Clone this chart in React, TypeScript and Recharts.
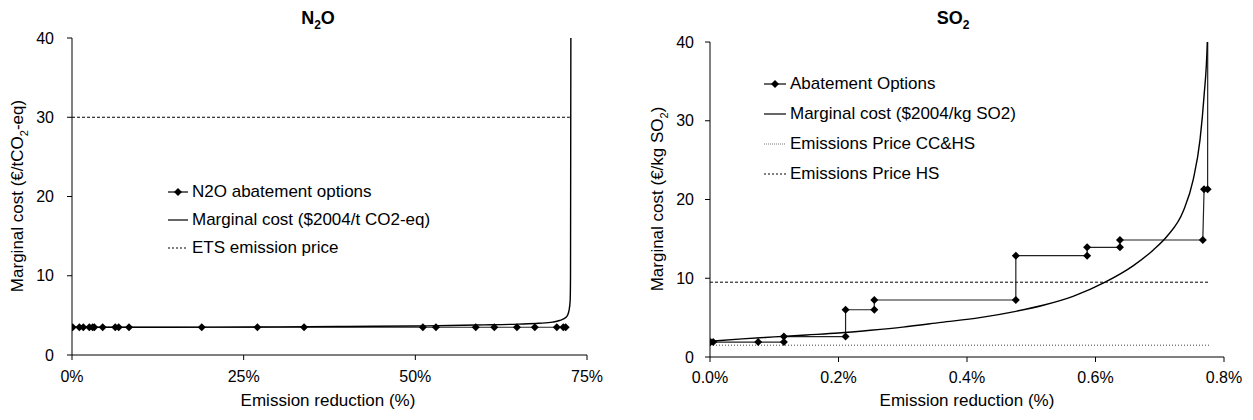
import React from 'react';
import { LineChart, Line, XAxis, YAxis } from 'recharts';

// N2O panel
const n2oOptionX = [0.1, 1.07, 1.65, 2.52, 3.0, 3.25, 4.47, 6.3, 6.8, 8.3, 18.9, 27.0, 33.8, 51.1, 53.0, 58.8, 61.5, 64.8, 67.4, 70.6, 71.55, 71.9];
const n2oOptionY = [3.5, 3.5, 3.5, 3.5, 3.5, 3.5, 3.5, 3.5, 3.5, 3.5, 3.5, 3.5, 3.5, 3.5, 3.5, 3.5, 3.5, 3.5, 3.5, 3.5, 3.5, 3.5];
const n2oCurveX = [0, 10, 20, 30, 40, 50, 55, 60, 65, 68, 70, 71, 72, 72.4, 72.55, 72.6, 72.65, 72.7];
const n2oCurveY = [3.5, 3.5, 3.52, 3.55, 3.6, 3.66, 3.72, 3.8, 3.9, 4.0, 4.15, 4.35, 4.8, 5.7, 6.9, 10, 40, 45];
const etsX = [0, 72.5];
const etsY = [30, 30];
const n2oXTicks = [0, 25, 50, 75];

// SO2 panel
const so2OptionX = [0.001, 0.005, 0.075, 0.115, 0.115, 0.211, 0.211, 0.2557, 0.2557, 0.476, 0.476, 0.587, 0.587, 0.638, 0.638, 0.767, 0.769, 0.7745, 0.7747];
const so2OptionY = [1.9, 1.9, 1.9, 1.9, 2.6, 2.6, 6.0, 6.0, 7.24, 7.24, 12.87, 12.87, 13.93, 13.93, 14.86, 14.86, 21.3, 21.3, 45];
const so2CurveX = [0, 0.05, 0.1, 0.15, 0.2, 0.25, 0.3, 0.36, 0.42, 0.476, 0.52, 0.565, 0.615, 0.659, 0.69, 0.711, 0.737, 0.752, 0.7627, 0.7689, 0.774, 0.7755];
const so2CurveY = [2.0, 2.3, 2.55, 2.8, 3.05, 3.4, 3.8, 4.4, 5.0, 5.8, 6.6, 7.7, 9.5, 11.6, 13.6, 15.3, 18.6, 22.5, 27.6, 33.1, 40, 45];
const ccHsX = [0, 0.777];
const ccHsY = [1.5, 1.5];
const hsX = [0, 0.777];
const hsY = [9.5, 9.5];
const so2XTicks = [0, 0.2, 0.4, 0.6, 0.8];

const yTicks = [0, 10, 20, 30, 40];

const FONT = '"Liberation Sans", Arial, sans-serif';

const toPoints = (xs: number[], ys: number[]) => xs.map((x, i) => ({ x, y: ys[i] }));

const Diamond = (props: any) => {
  const { cx, cy, index } = props;
  if (cx == null || cy == null) return <g key={index} />;
  const r = 4;
  return (
    <path
      key={index}
      d={`M${cx},${cy - r}L${cx + r},${cy}L${cx},${cy + r}L${cx - r},${cy}Z`}
      fill="#000"
    />
  );
};

const tickStyle = { fontSize: 16, fill: '#000', fontFamily: FONT };

type LegendItem = { label: React.ReactNode; dash?: string; marker?: boolean; color?: string; width?: number };

function LegendBlock({ items, left, top, rowGap, sampleW }: { items: LegendItem[]; left: number; top: number; rowGap: number; sampleW: number }) {
  return (
    <div style={{ position: 'absolute', left, top, fontFamily: FONT, fontSize: 17, color: '#000' }}>
      {items.map((it, i) => (
        <div key={i} style={{ position: 'absolute', top: i * rowGap, left: 0, display: 'flex', alignItems: 'center', whiteSpace: 'nowrap', height: 20, marginTop: -10 }}>
          <svg width={sampleW} height={12} style={{ marginRight: 4 }}>
            <line x1={0} y1={6} x2={sampleW} y2={6} stroke={it.color || '#000'} strokeWidth={it.width || 1.2} strokeDasharray={it.dash} />
            {it.marker && <path d={`M${sampleW / 2},2L${sampleW / 2 + 4},6L${sampleW / 2},10L${sampleW / 2 - 4},6Z`} fill="#000" />}
          </svg>
          <span>{it.label}</span>
        </div>
      ))}
    </div>
  );
}

export default function App() {
  return (
    <div style={{ position: 'absolute', left: 0, top: 0, width: 1253, height: 420, background: '#fff', fontFamily: FONT }}>
      {/* N2O chart */}
      <div style={{ position: 'absolute', left: 0, top: 0 }}>
        <LineChart width={620} height={420} margin={{ top: 38, right: 33, left: 22, bottom: 35 }}>
          <XAxis
            type="number"
            dataKey="x"
            domain={[0, 75]}
            ticks={n2oXTicks}
            tickFormatter={(v) => `${v}%`}
            stroke="#000"
            tickSize={5}
            tickMargin={11}
            tick={tickStyle}
            height={30}
            allowDataOverflow
          />
          <YAxis
            type="number"
            domain={[0, 40]}
            ticks={yTicks}
            stroke="#000"
            tickSize={5}
            tickMargin={13}
            tick={tickStyle}
            width={50}
            allowDataOverflow
          />
          <Line data={toPoints(etsX, etsY)} dataKey="y" stroke="#000" strokeWidth={1} strokeDasharray="3 2" dot={false} isAnimationActive={false} />
          <Line data={toPoints(n2oOptionX, n2oOptionY)} dataKey="y" stroke="#222" strokeWidth={1.2} dot={Diamond} isAnimationActive={false} />
          <Line data={toPoints(n2oCurveX, n2oCurveY)} dataKey="y" type="monotone" stroke="#000" strokeWidth={1.4} dot={false} isAnimationActive={false} />
        </LineChart>
      </div>

      {/* SO2 chart */}
      <div style={{ position: 'absolute', left: 620, top: 0 }}>
        <LineChart width={633} height={420} margin={{ top: 42, right: 29, left: 40, bottom: 33 }}>
          <XAxis
            type="number"
            dataKey="x"
            domain={[0, 0.8]}
            ticks={so2XTicks}
            tickFormatter={(v) => `${Number(v).toFixed(1)}%`}
            stroke="#000"
            tickSize={5}
            tickMargin={10}
            tick={tickStyle}
            height={30}
            allowDataOverflow
          />
          <YAxis
            type="number"
            domain={[0, 40]}
            ticks={yTicks}
            stroke="#000"
            tickSize={5}
            tickMargin={11}
            tick={tickStyle}
            width={50}
            allowDataOverflow
          />
          <Line data={toPoints(ccHsX, ccHsY)} dataKey="y" stroke="#444" strokeWidth={1} strokeDasharray="1 2" dot={false} isAnimationActive={false} />
          <Line data={toPoints(hsX, hsY)} dataKey="y" stroke="#000" strokeWidth={1} strokeDasharray="3 2" dot={false} isAnimationActive={false} />
          <Line data={toPoints(so2OptionX, so2OptionY)} dataKey="y" stroke="#222" strokeWidth={1.2} dot={Diamond} isAnimationActive={false} />
          <Line data={toPoints(so2CurveX, so2CurveY)} dataKey="y" type="monotone" stroke="#000" strokeWidth={1.4} dot={false} isAnimationActive={false} />
        </LineChart>
      </div>

      {/* titles */}
      <div style={{ position: 'absolute', left: 318, top: 8, transform: 'translateX(-50%)', fontWeight: 'bold', fontSize: 18 }}>
        N<sub style={{ fontSize: 12 }}>2</sub>O
      </div>
      <div style={{ position: 'absolute', left: 953, top: 8, transform: 'translateX(-50%)', fontWeight: 'bold', fontSize: 18 }}>
        SO<sub style={{ fontSize: 12 }}>2</sub>
      </div>

      {/* axis titles */}
      <div style={{ position: 'absolute', left: 328, top: 391, transform: 'translateX(-50%)', fontSize: 17, whiteSpace: 'nowrap' }}>
        Emission reduction (%)
      </div>
      <div style={{ position: 'absolute', left: 967, top: 391, transform: 'translateX(-50%)', fontSize: 17, whiteSpace: 'nowrap' }}>
        Emission reduction (%)
      </div>
      <div style={{ position: 'absolute', left: 19, top: 196, transform: 'translate(-50%, -50%) rotate(-90deg)', fontSize: 17, whiteSpace: 'nowrap' }}>
        Marginal cost (€/tCO<sub style={{ fontSize: 11 }}>2</sub>-eq)
      </div>
      <div style={{ position: 'absolute', left: 659, top: 199, transform: 'translate(-50%, -50%) rotate(-90deg)', fontSize: 17, whiteSpace: 'nowrap' }}>
        Marginal cost (€/kg SO<sub style={{ fontSize: 11 }}>2</sub>)
      </div>

      <LegendBlock
        left={168}
        top={192}
        rowGap={28}
        sampleW={20}
        items={[
          { label: 'N2O abatement options', marker: true },
          { label: 'Marginal cost ($2004/t CO2-eq)' },
          { label: 'ETS emission price', dash: '2 2', width: 1 },
        ]}
      />
      <LegendBlock
        left={764}
        top={84}
        rowGap={30}
        sampleW={22}
        items={[
          { label: 'Abatement Options', marker: true },
          { label: 'Marginal cost ($2004/kg SO2)' },
          { label: 'Emissions Price CC&HS', dash: '1 1', width: 0.8, color: '#555' },
          { label: 'Emissions Price HS', dash: '2 2', width: 1 },
        ]}
      />
    </div>
  );
}
